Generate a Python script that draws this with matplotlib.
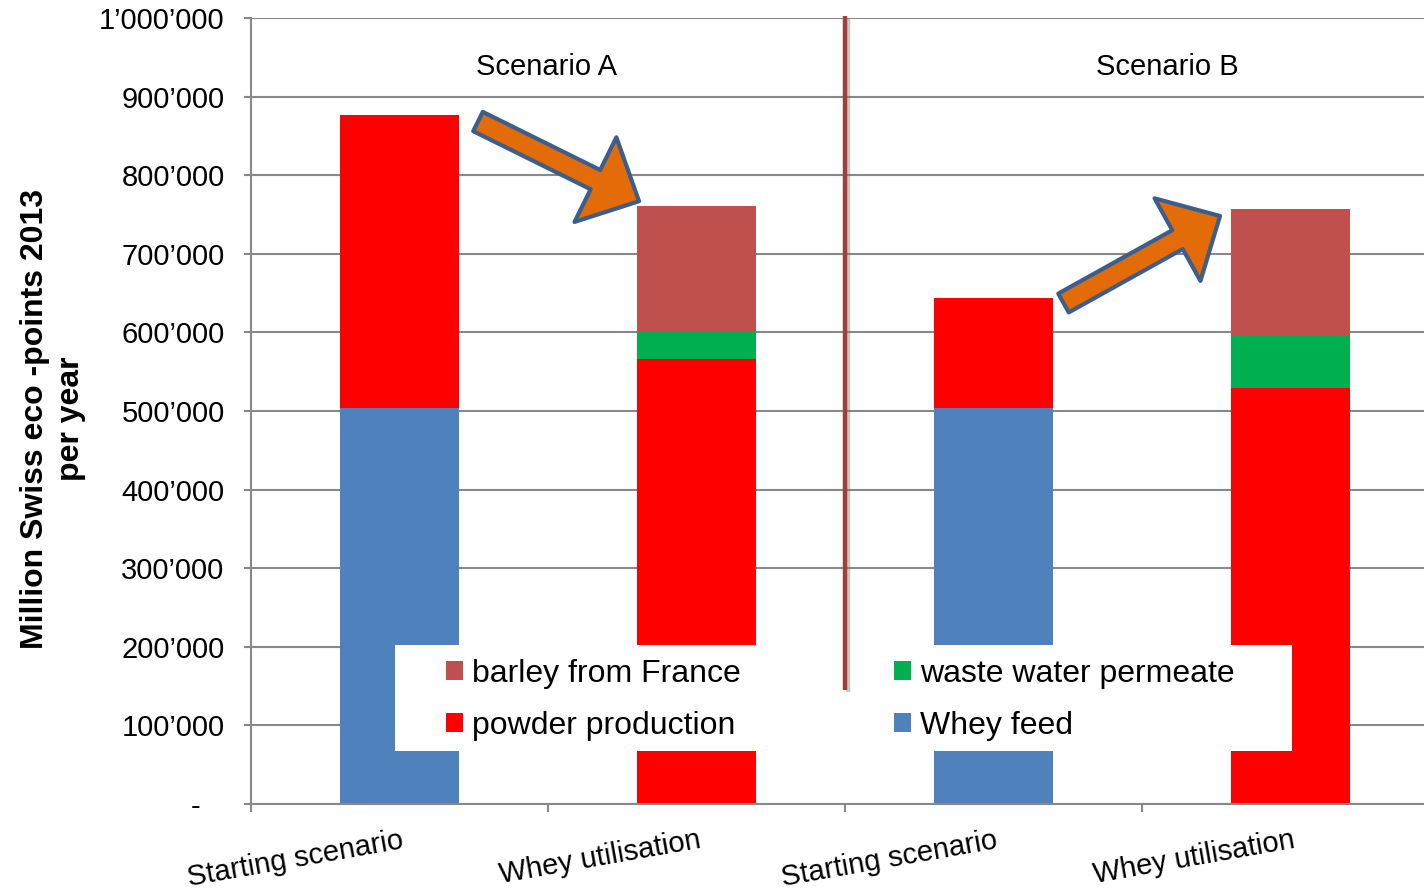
import matplotlib
matplotlib.use('Agg')
import matplotlib.pyplot as plt
from matplotlib.patches import Rectangle, Patch
from matplotlib.ticker import NullFormatter
from matplotlib.transforms import ScaledTranslation
import matplotlib.patheffects as pe
import numpy as np

plt.rcParams['font.family'] = ['Liberation Sans', 'DejaVu Sans']

# ---- data ----
categories = ['Starting scenario', 'Whey utilisation', 'Starting scenario', 'Whey utilisation']
whey_feed = [504000, 0, 504000, 0]
powder_production = [372000, 566000, 140000, 529000]
waste_water_permeate = [0, 34000, 0, 67000]
barley_from_france = [0, 161000, 0, 161000]

y_ticks = [0, 100000, 200000, 300000, 400000, 500000, 600000, 700000, 800000, 900000, 1000000]
y_tick_labels = ['-   ', '100\u2019000', '200\u2019000', '300\u2019000', '400\u2019000', '500\u2019000',
                 '600\u2019000', '700\u2019000', '800\u2019000', '900\u2019000', '1\u2019000\u2019000']
scenario_labels = ['Scenario A', 'Scenario B']
y_label = 'Million Swiss eco -points 2013\nper year'

colors = {'Whey feed': '#4F81BD', 'powder production': '#FF0000',
          'waste water permeate': '#00B050', 'barley from France': '#C0504D'}
GRAY = '#888888'

W, H = 1424, 893
fig = plt.figure(figsize=(W / 100, H / 100), dpi=100)
ax = fig.add_axes([251 / W, (H - 804) / H, 1188 / W, 786 / H])

x = np.arange(len(categories))
bottom = np.zeros(len(categories))
for vals, name in [(whey_feed, 'Whey feed'), (powder_production, 'powder production'),
                   (waste_water_permeate, 'waste water permeate'), (barley_from_france, 'barley from France')]:
    ax.bar(x, vals, 0.4, bottom=bottom, color=colors[name], label=name, zorder=2, linewidth=0)
    bottom += np.array(vals)

ax.set_xlim(-0.5, 3.5)
ax.set_ylim(0, 1000000)

# axes styling
for s in ['top', 'right']:
    ax.spines[s].set_visible(False)
for s in ['left', 'bottom']:
    ax.spines[s].set_color(GRAY)
    ax.spines[s].set_linewidth(1.5)
ax.set_axisbelow(True)
ax.yaxis.grid(True, color=GRAY, linewidth=1.5)

ax.set_yticks(y_ticks, labels=y_tick_labels)
ax.tick_params(axis='y', length=5, width=1.5, color=GRAY, pad=14, labelsize=21)

ax.set_xticks([-0.5, 0.5, 1.5, 2.5, 3.5])
ax.xaxis.set_major_formatter(NullFormatter())
ax.tick_params(axis='x', which='major', length=6, width=1.5, color=GRAY)
ax.set_xticks(x, minor=True)
ax.set_xticklabels(categories, minor=True, rotation=10, ha='right', va='center',
                   rotation_mode='anchor', fontsize=21)
ax.tick_params(axis='x', which='minor', length=0, pad=26)
shift = ScaledTranslation(4 / 100, 0, fig.dpi_scale_trans)
for lab in ax.get_xticklabels(minor=True):
    lab.set_transform(lab.get_transform() + shift)

ax.set_ylabel(y_label, fontsize=23, fontweight='bold', linespacing=1.3, ha='center', va='center')
ax.yaxis.set_label_coords((53 - 251) / 1188, (804 - 419) / 786)

# scenario labels
ax.text(0.495, 928000, scenario_labels[0], ha='center', va='baseline', fontsize=21)
ax.text(2.584, 928000, scenario_labels[1], ha='center', va='baseline', fontsize=21)

# legend background box
rect = Rectangle((395 / W, (H - 751) / H), 897 / W, 106 / H, transform=fig.transFigure,
                 facecolor='white', edgecolor='none', zorder=3)
ax.add_artist(rect)

# separator
ax.plot([1.5, 1.5], [145000, 1003000], color='#A0403E', lw=3.2, zorder=6, clip_on=False,
        solid_capstyle='butt',
        path_effects=[pe.SimpleLineShadow(offset=(2.5, -1.5), shadow_color='#777777', alpha=0.4),
                      pe.Normal()])

# legend
order = ['barley from France', 'powder production', 'waste water permeate', 'Whey feed']
handles = [Patch(facecolor=colors[n], edgecolor='none') for n in order]
leg = ax.legend(handles, order, ncol=2, frameon=False, fontsize=23, loc='center left',
                bbox_to_anchor=(446 / W, 1 - 700 / H), bbox_transform=fig.transFigure,
                borderpad=0, borderaxespad=0, handlelength=0.53, handleheight=0.53,
                handletextpad=0.28, columnspacing=4.8, labelspacing=0.68)
leg.set_zorder(7)

# arrows
arrow_style = 'simple,head_length=3.5,head_width=6.8,tail_width=1.55'
for tail, tip in [((0.2643, 868300), (0.8064, 766900)), ((2.2357, 637400), (2.7626, 748100))]:
    ax.annotate('', xy=tip, xytext=tail, zorder=8,
                arrowprops=dict(arrowstyle=arrow_style, mutation_scale=10, fc='#E36C09',
                                ec='#3B5E8C', lw=3, shrinkA=0, shrinkB=0))

fig.savefig('out.png', dpi=100)
